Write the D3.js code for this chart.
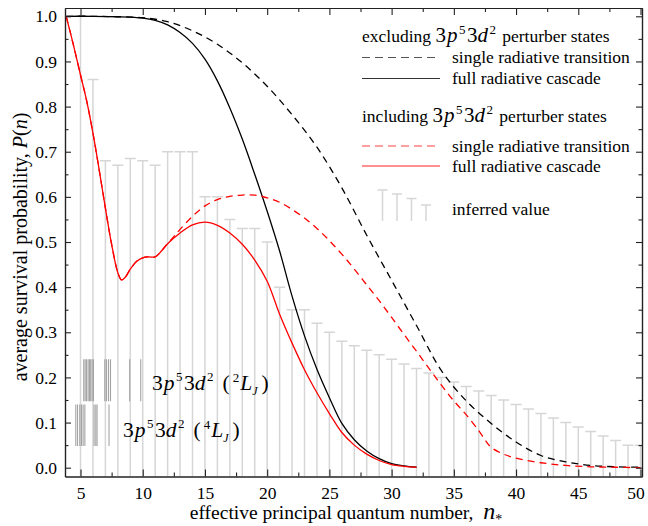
<!DOCTYPE html>
<html>
<head>
<meta charset="utf-8">
<script src="https://cdn.jsdelivr.net/npm/d3@7"></script>
<style>
  html, body { margin: 0; padding: 0; background: #fff; }
  svg text { font-family: "Liberation Serif", "DejaVu Serif", serif; fill: #000; white-space: pre; }
</style>
</head>
<body>
<svg id="chart" width="648" height="526"></svg>
<script>
// inferred values (grey T bars), one per integer n
var inferredN = [5, 6, 7, 8, 9, 10, 11, 12, 13, 14, 15, 16, 17, 18, 19, 20, 21, 22, 23, 24, 25, 26, 27,
    28, 29, 30, 31, 32, 33, 34, 35, 36, 37, 38, 39, 40, 41, 42, 43, 44, 45, 46, 47, 48, 49, 50];
var inferredP = [1.0, 0.86, 0.68, 0.67, 0.685, 0.68, 0.67, 0.70, 0.70, 0.70, 0.60, 0.60, 0.55, 0.53, 0.53, 0.50,
    0.40, 0.35, 0.35, 0.32, 0.30, 0.28, 0.27, 0.26, 0.25, 0.24, 0.23, 0.22, 0.21, 0.20, 0.19, 0.18, 0.17,
    0.16, 0.15, 0.14, 0.13, 0.12, 0.11, 0.10, 0.09, 0.08, 0.07, 0.06, 0.05, 0.05];

// excluding perturber states
var exclSingle = [[3.85, 1.0], [6, 1.0], [8, 0.999], [10, 0.997], [12, 0.988], [14, 0.968], [16, 0.938],
    [18, 0.897], [20, 0.845], [22, 0.782], [24, 0.71], [26, 0.62], [28, 0.515], [30, 0.415], [32, 0.315],
    [34, 0.215], [36, 0.148], [38, 0.098], [40, 0.057], [42, 0.027], [44, 0.013], [46, 0.005], [48, 0.002],
    [50, 0.001]];
var exclCascade = [[3.85, 1.0], [6, 1.0], [8, 0.999], [10, 0.996], [11, 0.991], [12, 0.981], [13, 0.964], [14, 0.94],
    [15, 0.905], [16, 0.857], [17, 0.797], [18, 0.728], [19, 0.65], [20, 0.568], [21, 0.48], [22, 0.38],
    [23, 0.292], [24, 0.218], [25, 0.155], [26, 0.098], [27, 0.062], [28, 0.037], [29, 0.02], [30, 0.009],
    [31, 0.004], [32, 0.001]];

// including perturber states
var inclCascade = [[3.85, 1.0], [4.4, 0.94], [5, 0.87], [5.5, 0.812], [6, 0.741], [6.5, 0.66], [7, 0.575],
    [7.5, 0.495], [8, 0.432], [8.3, 0.416], [8.6, 0.422], [9, 0.44], [9.5, 0.457], [10, 0.465], [10.5, 0.467],
    [11, 0.467], [11.5, 0.48], [12, 0.496], [13, 0.52], [14, 0.538], [15, 0.544], [16, 0.537], [17, 0.52],
    [18, 0.495], [19, 0.46], [20, 0.413], [21, 0.34], [22, 0.276], [23, 0.217], [24, 0.166], [25, 0.12],
    [26, 0.078], [27, 0.05], [28, 0.03], [29, 0.016], [30, 0.007], [31, 0.003], [32, 0.001]];
var inclSingle = [[3.85, 1.0], [4.4, 0.94], [5, 0.87], [5.5, 0.812], [6, 0.741], [6.5, 0.66], [7, 0.575],
    [7.5, 0.495], [8, 0.432], [8.3, 0.416], [8.6, 0.422], [9, 0.44], [9.5, 0.457], [10, 0.465], [10.5, 0.467],
    [11, 0.467], [11.5, 0.48], [12, 0.497], [12.5, 0.512], [13, 0.528], [14, 0.557], [15, 0.58], [16, 0.594],
    [17, 0.601], [18, 0.604], [19, 0.604], [20, 0.598], [21, 0.588], [22, 0.572], [23, 0.553], [24, 0.53],
    [25, 0.503], [26, 0.473], [27, 0.44], [28, 0.405], [29, 0.37], [30, 0.333], [31, 0.295], [32, 0.258],
    [33, 0.22], [34, 0.183], [35, 0.148], [36, 0.117], [37, 0.082], [37.5, 0.062], [38, 0.045], [39, 0.03],
    [40, 0.021], [42, 0.011], [44, 0.005], [46, 0.002], [48, 0.001], [50, 0.0]];

// positions (in n) of the 3p^5 3d^2 perturber levels
var doubletLevels = [5.26, 5.37, 5.48, 5.61, 5.72, 5.82, 5.93, 6.04, 6.95, 7.09, 7.25, 7.41, 8.95, 9.84];
var quartetLevels = [4.62, 4.76, 4.94, 5.08, 5.21, 5.35, 6.09, 6.23, 6.33, 7.29];
var doubletBand = [0.147, 0.24];
var quartetBand = [0.048, 0.14];

var xMajor = [5, 10, 15, 20, 25, 30, 35, 40, 45, 50];
var xMinor = [7.5, 12.5, 17.5, 22.5, 27.5, 32.5, 37.5, 42.5, 47.5];
var yMajor = [0, 0.1, 0.2, 0.3, 0.4, 0.5, 0.6, 0.7, 0.8, 0.9, 1.0];
var yMinor = [0.05, 0.15, 0.25, 0.35, 0.45, 0.55, 0.65, 0.75, 0.85, 0.95];

var pLeft = 65, pRight = 642, pTop = 8, pBottom = 476.5;

var x = d3.scaleLinear().domain([3.754, 50.12]).range([pLeft, pRight]);
var y = d3.scaleLinear().domain([-0.0195, 1.0184]).range([pBottom, pTop]);

var svg = d3.select('#chart');
svg.append('rect').attr('width', 648).attr('height', 526).attr('fill', '#fff');

svg.append('clipPath').attr('id', 'plot')
    .append('rect').attr('x', pLeft).attr('y', pTop).attr('width', pRight - pLeft).attr('height', pBottom - pTop);

var plot = svg.append('g').attr('clip-path', 'url(#plot)');

// grey inferred-value bars
var bars = plot.append('g').selectAll('g').data(inferredN).enter().append('g');
bars.append('line')
    .attr('x1', function (d) { return x(d); })
    .attr('x2', function (d) { return x(d); })
    .attr('y1', pBottom)
    .attr('y2', function (d, i) { return y(inferredP[i]); })
    .attr('stroke', '#d6d6d6').attr('stroke-width', 1.5);
bars.append('line')
    .attr('x1', function (d) { return x(d) - 5.5; })
    .attr('x2', function (d) { return x(d) + 5.5; })
    .attr('y1', function (d, i) { return y(inferredP[i]); })
    .attr('y2', function (d, i) { return y(inferredP[i]); })
    .attr('stroke', '#d6d6d6').attr('stroke-width', 1.5);

// perturber level marks
function levels(data, band) {
    plot.append('g').selectAll('line').data(data).enter().append('line')
        .attr('x1', function (d) { return x(d); })
        .attr('x2', function (d) { return x(d); })
        .attr('y1', y(band[0]))
        .attr('y2', y(band[1]))
        .attr('stroke', '#a3a3a3').attr('stroke-width', 1.1);
}
levels(doubletLevels, doubletBand);
levels(quartetLevels, quartetBand);

var line = d3.line()
    .x(function (d) { return x(d[0]); })
    .y(function (d) { return y(d[1]); })
    .curve(d3.curveCatmullRom.alpha(0.5));

function curve(data, color, dashed) {
    plot.append('path').datum(data)
        .attr('d', line)
        .attr('fill', 'none')
        .attr('stroke', color)
        .attr('stroke-width', 1.3)
        .attr('stroke-dasharray', dashed ? '7,5' : null);
}
curve(exclSingle, '#000', true);
curve(exclCascade, '#000', false);
curve(inclSingle, '#ff0000', true);
curve(inclCascade, '#ff0000', false);

// axes, ticks pointing inward
function fmt(d) { return d3.format('.1f')(d); }
var axes = svg.append('g');

var xAxisG = axes.append('g').attr('transform', 'translate(0,' + pBottom + ')')
    .call(d3.axisBottom(x).tickValues(xMajor).tickSize(-7).tickSizeOuter(0).tickPadding(10).tickFormat(d3.format('d')));
axes.append('g').attr('transform', 'translate(0,' + pBottom + ')')
    .call(d3.axisBottom(x).tickValues(xMinor).tickSize(-4).tickSizeOuter(0).tickFormat(''));
axes.append('g').attr('transform', 'translate(0,' + pTop + ')')
    .call(d3.axisTop(x).tickValues(xMajor).tickSize(-7).tickSizeOuter(0).tickFormat(''));
axes.append('g').attr('transform', 'translate(0,' + pTop + ')')
    .call(d3.axisTop(x).tickValues(xMinor).tickSize(-4).tickSizeOuter(0).tickFormat(''));

axes.append('g').attr('transform', 'translate(' + pLeft + ',0)')
    .call(d3.axisLeft(y).tickValues(yMajor).tickSize(-6).tickSizeOuter(0).tickPadding(8).tickFormat(fmt));
axes.append('g').attr('transform', 'translate(' + pLeft + ',0)')
    .call(d3.axisLeft(y).tickValues(yMinor).tickSize(-3.5).tickSizeOuter(0).tickFormat(''));
axes.append('g').attr('transform', 'translate(' + pRight + ',0)')
    .call(d3.axisRight(y).tickValues(yMajor).tickSize(-6).tickSizeOuter(0).tickFormat(''));
axes.append('g').attr('transform', 'translate(' + pRight + ',0)')
    .call(d3.axisRight(y).tickValues(yMinor).tickSize(-3.5).tickSizeOuter(0).tickFormat(''));

axes.selectAll('.domain').attr('stroke', '#222').attr('stroke-width', 1.2);
axes.selectAll('.tick line').attr('stroke', '#222').attr('stroke-width', 1.1);
axes.selectAll('.tick text')
    .style('font-family', '"Liberation Serif", serif')
    .style('font-size', '17.5px')
    .attr('fill', '#000');
// last label sits at the window edge, nudge it inside
xAxisG.selectAll('.tick text').filter(function (d) { return d === 50; }).attr('dx', -5);

// rich text helper: parts = [{t, size, it, shift, dx}]
function rich(g, px, py, parts, anchor) {
    var t = g.append('text').attr('x', px).attr('y', py);
    if (anchor) t.attr('text-anchor', anchor);
    var shift = 0;
    parts.forEach(function (p) {
        var s = t.append('tspan').text(p.t).style('font-size', p.size + 'px');
        if (p.it) s.style('font-style', 'italic');
        var want = p.shift || 0;
        if (want !== shift) { s.attr('dy', want - shift); shift = want; }
        if (p.dx) s.attr('dx', p.dx);
    });
    return t;
}

function config(size, supSize) {
    return [
        {t: '3', size: size},
        {t: 'p', size: size, it: true, dx: 1},
        {t: '5', size: supSize, shift: -size * 0.4, dx: 1.5},
        {t: '3', size: size, shift: 0, dx: 1.5},
        {t: 'd', size: size, it: true},
        {t: '2', size: supSize, shift: -size * 0.4, dx: 1.5}
    ];
}

// axis titles
rich(svg, 346, 518.5, [
    {t: 'effective principal quantum number,  ', size: 19.5},
    {t: 'n', size: 24, it: true},
    {t: '*', size: 14, shift: 5}
], 'middle');

var yt = svg.append('g').attr('transform', 'translate(27,247) rotate(-90)');
rich(yt, 0, 0, [
    {t: 'average survival probability, ', size: 20},
    {t: 'P', size: 20, it: true},
    {t: '(', size: 20},
    {t: 'n', size: 20, it: true},
    {t: ')', size: 20}
], 'middle');

// labels of the level groups
function termLabel(px, py, mult) {
    rich(svg, px, py, config(21.5, 13).concat([
        {t: '(', size: 21.5, shift: 0, dx: 9},
        {t: mult, size: 13, shift: -8, dx: 3},
        {t: 'L', size: 21.5, it: true, shift: 0, dx: 1},
        {t: 'J', size: 12, it: true, shift: 5},
        {t: ')', size: 21.5, shift: 0, dx: 4}
    ]));
}
termLabel(152, 390, '2');
termLabel(123, 437, '4');

// legend
var lg = svg.append('g');
function heading(py, word) {
    rich(lg, 362, py, [{t: word + ' ', size: 17.5}].concat(config(21, 13)).concat([
        {t: ' perturber states', size: 17.5, shift: 0, dx: 2}
    ]));
}
function entry(py, color, dashed, label) {
    lg.append('line').attr('x1', 362).attr('x2', 440).attr('y1', py).attr('y2', py)
        .attr('stroke', color).attr('stroke-width', 1.2)
        .attr('stroke-dasharray', dashed ? '8,5' : null);
    lg.append('text').attr('x', 452).attr('y', py + 5.5).style('font-size', '17.5px').text(label);
}
heading(42, 'excluding');
entry(57.5, '#555', true, 'single radiative transition');
entry(78.5, '#333', false, 'full radiative cascade');
heading(122, 'including');
entry(146, '#ff4040', true, 'single radiative transition');
entry(166, '#ff2020', false, 'full radiative cascade');

var iconX = [382.5, 397, 411.5, 426];
var iconTop = [190, 194, 198.5, 205];
iconX.forEach(function (ix, i) {
    lg.append('line').attr('x1', ix).attr('x2', ix).attr('y1', iconTop[i]).attr('y2', 221)
        .attr('stroke', '#d6d6d6').attr('stroke-width', 1.5);
    lg.append('line').attr('x1', ix - 5).attr('x2', ix + 5).attr('y1', iconTop[i]).attr('y2', iconTop[i])
        .attr('stroke', '#d6d6d6').attr('stroke-width', 1.5);
});
lg.append('text').attr('x', 452).attr('y', 215).style('font-size', '17.5px').text('inferred value');
</script>
</body>
</html>
